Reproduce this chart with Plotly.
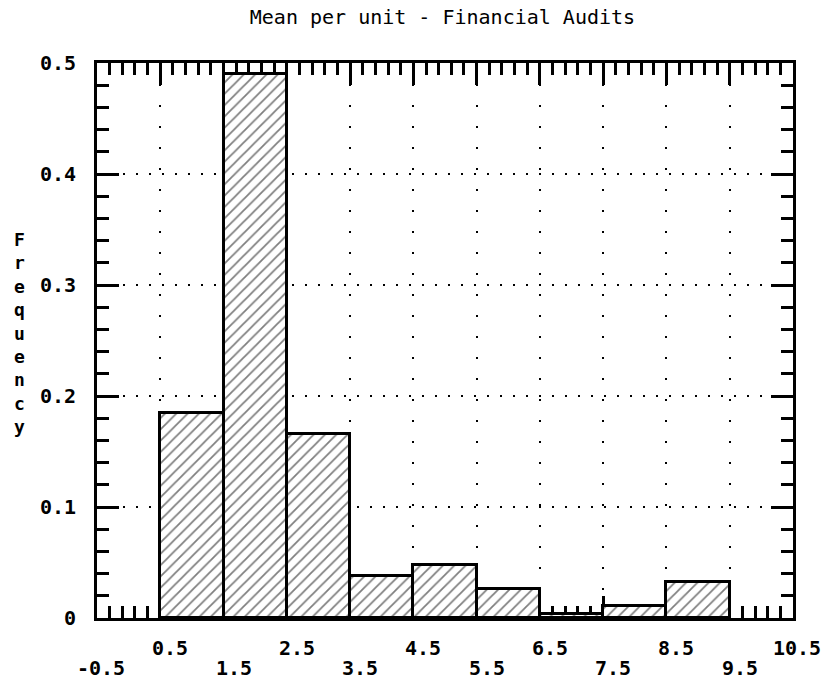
import plotly.graph_objects as go

# Data
bin_centers = [1, 2, 3, 4, 5, 6, 7, 8, 9]
frequency = [0.185, 0.490, 0.166, 0.038, 0.048, 0.026, 0.004, 0.011, 0.032]
x_upper_labels = [0.5, 2.5, 4.5, 6.5, 8.5, 10.5]
x_lower_labels = [-0.5, 1.5, 3.5, 5.5, 7.5, 9.5]
y_ticks = [0, 0.1, 0.2, 0.3, 0.4, 0.5]
y_tick_text = ["0", "0.1", "0.2", "0.3", "0.4", "0.5"]

FONT = "DejaVu Sans Mono"

fig = go.Figure()
fig.add_trace(go.Bar(
    x=bin_centers, y=frequency, width=1,
    marker=dict(color="white",
                line=dict(color="black", width=3),
                pattern=dict(shape="/", fgcolor="black", bgcolor="white",
                             size=8, solidity=0.22)),
    showlegend=False,
))

annotations = []
for v in x_upper_labels:
    annotations.append(dict(x=v, y=0, xref="x", yref="paper", text=f"{v:g}",
                            showarrow=False, xanchor="right", yanchor="middle",
                            xshift=30, yshift=-30,
                            font=dict(family=FONT, size=20, color="black", weight="bold")))
for v in x_lower_labels:
    annotations.append(dict(x=v, y=0, xref="x", yref="paper", text=f"{v:g}",
                            showarrow=False, xanchor="right", yanchor="middle",
                            xshift=30, yshift=-50,
                            font=dict(family=FONT, size=20, color="black", weight="bold")))
annotations.append(dict(x=0, y=0.513, xref="paper", yref="paper",
                        text="<br>".join("Frequency"), showarrow=False,
                        xanchor="center", yanchor="middle", xshift=-78,
                        font=dict(family=FONT, size=18, color="black", weight="bold"),
                        ))

fig.update_layout(
    width=827, height=686,
    margin=dict(l=97, r=34, t=63, b=68),
    paper_bgcolor="white", plot_bgcolor="white",
    title=dict(text="Mean per unit - Financial Audits", x=0.535, xanchor="center",
               y=1 - 17 / 686, yanchor="middle",
               font=dict(family=FONT, size=20, color="black")),
    bargap=0,
    annotations=annotations,
    xaxis=dict(range=[-0.5, 10.5], tick0=-0.5, dtick=1, showticklabels=False,
               ticks="inside", ticklen=22, tickwidth=2.5, tickcolor="black",
               showline=True, linecolor="black", linewidth=3, mirror="allticks",
               showgrid=True, gridcolor="black", gridwidth=2, griddash="2px,19px",
               zeroline=False, layer="below traces",
               minor=dict(dtick=0.2, tick0=-0.5, ticks="inside", ticklen=12,
                          tickwidth=2.5, tickcolor="black", showgrid=False)),
    yaxis=dict(range=[0, 0.5], tickvals=y_ticks, ticktext=y_tick_text,
               ticks="inside", ticklen=22, tickwidth=2.5, tickcolor="black",
               showline=True, linecolor="black", linewidth=3, mirror="allticks",
               showgrid=True, gridcolor="black", gridwidth=2, griddash="2px,11px",
               zeroline=False, layer="below traces", ticklabelstandoff=14,
               tickfont=dict(family=FONT, size=20, color="black", weight="bold"),
               minor=dict(dtick=0.02, tick0=0, ticks="inside", ticklen=12,
                          tickwidth=2.5, tickcolor="black", showgrid=False)),
)

fig.write_html("out.html")
